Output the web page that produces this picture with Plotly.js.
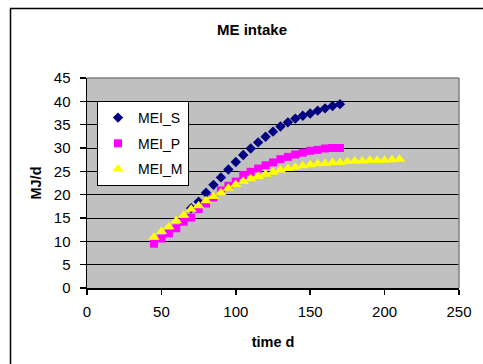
<!DOCTYPE html>
<html>
<head>
<meta charset="utf-8">
<script src="https://cdn.plot.ly/plotly-3.0.1.min.js"></script>
<style>
  html, body { margin: 0; padding: 0; background: #ffffff; }
  #chart { width: 483px; height: 364px; }
</style>
</head>
<body>
<div id="chart"></div>
<script>
// Metabolisable energy intake (MJ/d) against time (d)
var daysS = [70, 75, 80, 85, 90, 95, 100, 105, 110, 115, 120, 125, 130, 135, 140, 145, 150, 155, 160, 165, 170];
var meiS  = [17.1, 18.5, 20.4, 22.1, 23.7, 25.4, 27.0, 28.5, 29.9, 31.2, 32.4, 33.5, 34.6, 35.5, 36.3, 36.9, 37.4, 38.0, 38.5, 39.0, 39.4];

var daysP = [45, 50, 55, 60, 65, 70, 75, 80, 85, 90, 95, 100, 105, 110, 115, 120, 125, 130, 135, 140, 145, 150, 155, 160, 165, 170];
var meiP  = [9.5, 10.6, 11.7, 12.8, 14.2, 15.1, 16.9, 18.1, 19.4, 20.9, 21.9, 22.8, 24.2, 24.9, 25.6, 26.3, 26.9, 27.6, 28.1, 28.6, 29.0, 29.4, 29.6, 29.9, 30.0, 30.0];

var daysM = [45, 50, 55, 60, 65, 70, 75, 80, 85, 90, 95, 100, 105, 110, 115, 120, 125, 130, 135, 140, 145, 150, 155, 160, 165, 170, 175, 180, 185, 190, 195, 200, 205, 210];
var meiM  = [10.9, 12.1, 13.1, 14.4, 15.6, 16.9, 17.6, 18.7, 19.6, 20.4, 21.4, 22.2, 22.8, 23.4, 23.9, 24.4, 24.8, 25.3, 25.6, 25.9, 26.2, 26.4, 26.6, 26.7, 26.9, 26.9, 27.1, 27.2, 27.2, 27.4, 27.4, 27.4, 27.5, 27.6];

var xTicks = [0, 50, 100, 150, 200, 250];
var yTicks = [0, 5, 10, 15, 20, 25, 30, 35, 40, 45];

var font = 'Arial, "Liberation Sans", sans-serif';

// plot area is 372 x 210 px; helpers convert pixel positions to paper fractions
var PW = 372, PH = 210, PL = 87, PB = 288;
function px(x) { return (x - PL) / PW; }
function py(y) { return (PB - y) / PH; }

var traces = [
  { x: daysS, y: meiS, name: 'MEI_S', type: 'scatter', mode: 'markers', legendgroup: 's',
    marker: { symbol: 'diamond', size: 8, color: '#000080' } },
  { x: daysP, y: meiP, name: 'MEI_P', type: 'scatter', mode: 'markers', legendgroup: 'p',
    marker: { symbol: 'square', size: 8, color: '#FF00FF' } },
  { x: daysM, y: meiM, name: 'MEI_M', type: 'scatter', mode: 'markers', legendgroup: 'm',
    marker: { symbol: 'triangle-up', size: 10, color: '#FFFF00' } }
];

var layout = {
  width: 483, height: 364,
  margin: { l: 87, r: 24, t: 78, b: 76 },
  paper_bgcolor: 'rgba(0,0,0,0)',
  plot_bgcolor: '#C0C0C0',
  font: { family: font, size: 15, color: '#000000' },
  title: { text: '<b>ME intake</b>', font: { family: font, size: 15, color: '#000' },
           x: px(252), xref: 'paper', xanchor: 'center', y: 1 - 30 / 364, yanchor: 'middle' },
  showlegend: true,
  legend: {
    x: px(97), y: py(101), xanchor: 'left', yanchor: 'top',
    bgcolor: '#FFFFFF', bordercolor: '#000000', borderwidth: 1,
    font: { family: font, size: 14, color: '#000' },
    tracegroupgap: 4.5, itemwidth: 30
  },
  xaxis: {
    range: [0, 250], tickvals: xTicks, ticktext: xTicks.map(String),
    showgrid: false, zeroline: false,
    showline: true, linecolor: '#000', linewidth: 1.5,
    ticks: 'outside', ticklen: 5, tickcolor: '#000', tickwidth: 1.5,
    tickfont: { family: font, size: 15 }, ticklabelstandoff: 4,
    title: { text: '<b>time d</b>', font: { family: font, size: 14.5 }, standoff: 18 }
  },
  yaxis: {
    range: [0, 45], tickvals: yTicks, ticktext: yTicks.map(String),
    showgrid: true, gridcolor: '#000000', gridwidth: 1,
    zeroline: false,
    showline: true, linecolor: '#000', linewidth: 1.5,
    ticks: 'outside', ticklen: 6, tickcolor: '#000', tickwidth: 1.5,
    tickfont: { family: font, size: 15 }, ticklabelstandoff: 6,
    title: { text: '<b>MJ/d</b>', font: { family: font, size: 14.5 }, standoff: 8 }
  },
  shapes: [
    // grey frame on top and right of the plotting area
    { type: 'line', xref: 'paper', yref: 'paper', x0: 0, x1: 1, y0: 1, y1: 1,
      line: { color: '#808080', width: 1.5 } },
    { type: 'line', xref: 'paper', yref: 'paper', x0: 1, x1: 1, y0: 0, y1: 1,
      line: { color: '#808080', width: 1.5 } },
    // outer chart border
    { type: 'rect', xref: 'paper', yref: 'paper', layer: 'above',
      x0: px(10.5), x1: px(495), y0: py(372), y1: py(8.5),
      line: { color: '#000', width: 1.5 }, fillcolor: 'rgba(0,0,0,0)' }
  ]
};

Plotly.newPlot('chart', traces, layout, { displayModeBar: false, staticPlot: true });
</script>
</body>
</html>
